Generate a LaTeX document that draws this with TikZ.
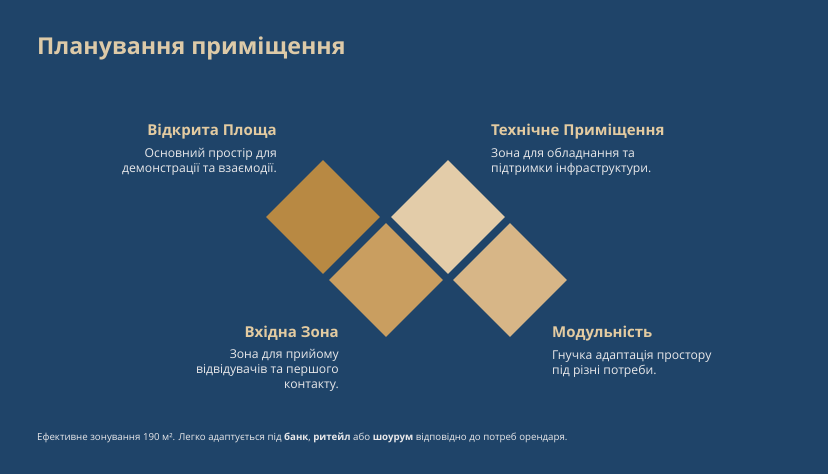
\documentclass[tikz,border=0pt]{standalone}
\usepackage{fontspec}
\setmainfont{Open Sans}
\usetikzlibrary{shapes.geometric}
\definecolor{bg}{HTML}{1F4469}
\definecolor{titlec}{HTML}{DDCAA8}
\definecolor{headc}{HTML}{E3CBA1}
\definecolor{bodyc}{HTML}{E8E8EA}
\definecolor{dA}{HTML}{B88943}
\definecolor{dB}{HTML}{C99E60}
\definecolor{dC}{HTML}{E3CCA9}
\definecolor{dD}{HTML}{D7B687}
\tikzset{
  tile/.style={diamond, minimum width=114pt, minimum height=114pt, inner sep=0pt, draw=none},
  heading/.style={font=\fontsize{15}{18}\selectfont\bfseries, text=headc, inner sep=0pt},
  body/.style={font=\fontsize{12.2}{15}\selectfont, text=bodyc, inner sep=0pt},
}
\begin{document}
\begin{tikzpicture}[x=1pt,y=-1pt]
\fill[bg] (0,0) rectangle (828,474);
\useasboundingbox (0,0) rectangle (828,474);
\node[anchor=base west, inner sep=0pt, text=titlec, font=\fontsize{23.2}{26}\selectfont\bfseries] (title) at (37,54) {Планування приміщення};
\node[tile, fill=dA] (d1) at (323,217) {};
\node[tile, fill=dB] (d2) at (386,280) {};
\node[tile, fill=dC] (d3) at (448,217) {};
\node[tile, fill=dD] (d4) at (510,280) {};
\node[heading, anchor=base east] (h1) at (277,135) {Відкрита Площа};
\node[body, anchor=base east, align=right] (b1) at (277,172) {Основний простір для\\демонстрації та взаємодії.};
\node[heading, anchor=base west] (h2) at (491,135) {Технічне Приміщення};
\node[body, anchor=base west, align=left] (b2) at (491,172) {Зона для обладнання та\\підтримки інфраструктури.};
\node[heading, anchor=base east] (h3) at (339,337) {Вхідна Зона};
\node[body, anchor=base east, align=right] (b3) at (339,388) {Зона для прийому\\відвідувачів та першого\\контакту.};
\node[heading, anchor=base west] (h4) at (552,337) {Модульність};
\node[body, anchor=base west, align=left] (b4) at (552,374) {Гнучка адаптація простору\\під різні потреби.};
\node[anchor=base west, inner sep=0pt, text=bodyc, font=\fontsize{9.7}{11}\selectfont] (foot) at (37,440) {Ефективне зонування 190 м². Легко адаптується під \textbf{банк}, \textbf{ритейл} або \textbf{шоурум} відповідно до потреб орендаря.};
\end{tikzpicture}
\end{document}
